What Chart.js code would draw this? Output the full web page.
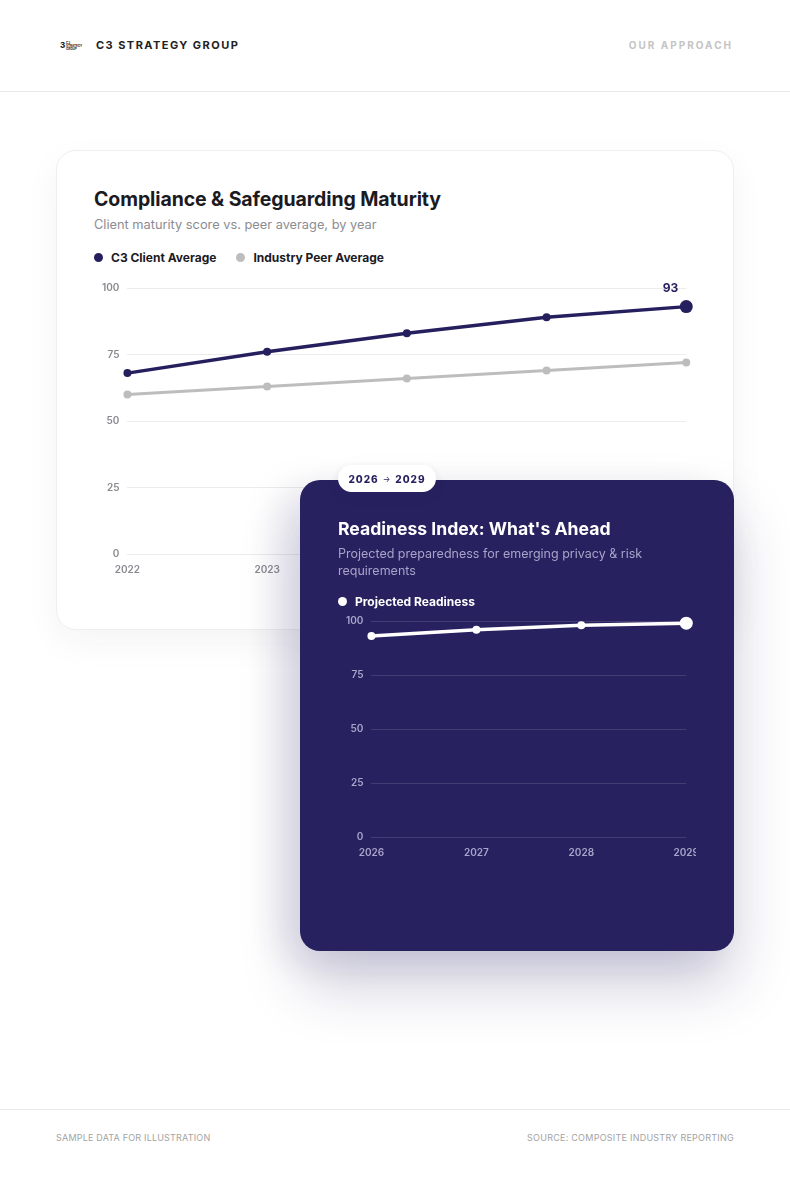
<!DOCTYPE html>
<html><head><meta charset="utf-8">
<script src="https://cdn.jsdelivr.net/npm/chart.js@4.4.1/dist/chart.umd.min.js"></script>
<style>
html,body{margin:0;padding:0}
body{width:790px;height:1180px;background:#fff;font-family:Inter,'Noto Sans',sans-serif;position:relative;overflow:hidden;color:#1a1a1a}
.abs{position:absolute}
#header{left:0;top:0;width:790px;height:91px;border-bottom:1px solid #e9e9e9}
#logo{left:60px;top:41px;width:22px;height:8px;font-size:8px;font-weight:800;line-height:8px;color:#222}
#logo small{position:absolute;left:6px;top:1px;font-size:3px;line-height:3px;font-weight:700;letter-spacing:0}
#brand{left:96px;top:38px;font-size:11px;font-weight:700;letter-spacing:1.45px;color:#222}
#nav{right:57px;top:39px;font-size:10px;font-weight:700;letter-spacing:2px;color:#c4c4c4}
#card1{left:56px;top:150px;width:676px;height:478px;border:1px solid #efefef;border-radius:20px;background:#fff;box-shadow:0 12px 34px rgba(30,30,60,0.05)}
#t1{left:94px;top:187px;font-size:19.5px;font-weight:700;color:#1b1a1f;letter-spacing:-0.1px}
#s1{left:94px;top:217px;font-size:12.8px;color:#8c8b92}
.leg{font-size:12px;font-weight:700;display:flex;align-items:center;white-space:nowrap}
.leg .dot{width:9px;height:9px;border-radius:50%;display:inline-block;margin-right:8px}
.leg .item{display:flex;align-items:center;margin-right:20px}
#leg1{left:94px;top:250px;color:#1b1a1f}
#c1wrap{left:94px;top:274px;width:607px;height:304px}
#card2{left:300px;top:480px;width:434px;height:471px;border-radius:20px;background:#27215f;box-shadow:0 34px 60px rgba(39,33,95,0.22), -20px 10px 40px rgba(39,33,95,0.10)}
#badge{left:338px;top:465px;width:98px;height:27px;border-radius:14px;background:#fff;box-shadow:0 4px 12px rgba(39,33,95,0.12);font-size:10px;font-weight:800;letter-spacing:1.0px;color:#27215f;display:flex;align-items:center;justify-content:center}
#badge .arr{font-size:8px;font-weight:400;margin:0 4px}
#t2{left:338px;top:518px;font-size:17.6px;font-weight:700;color:#fff}
#s2{left:338px;top:545px;width:340px;font-size:12.5px;line-height:17px;color:#a7a4c8}
#leg2{left:338px;top:594px;color:#fff}
#c2clip{left:338px;top:607px;width:358px;height:254px;overflow:hidden}
#c2wrap{left:0;top:0;width:363px;height:254px}
#footer{left:0;top:1109px;width:790px;border-top:1px solid #e9e9e9}
#f1{left:56px;top:1132px;font-size:9px;color:#a3a3a3;letter-spacing:0.2px}
#f2{right:56px;top:1132px;font-size:9px;color:#a3a3a3;letter-spacing:0.25px}
</style></head>
<body>
<div id="header" class="abs"></div>
<div id="logo" class="abs">3<small>C3 STRATEGY<br>GROUP</small></div>
<div id="brand" class="abs">C3 STRATEGY GROUP</div>
<div id="nav" class="abs">OUR APPROACH</div>

<div id="card1" class="abs"></div>
<div id="t1" class="abs">Compliance &amp; Safeguarding Maturity</div>
<div id="s1" class="abs">Client maturity score vs. peer average, by year</div>
<div id="leg1" class="abs leg"></div>
<div id="c1wrap" class="abs"><canvas id="c1"></canvas></div>

<div id="card2" class="abs"></div>
<div id="badge" class="abs">2026<span class="arr">→</span>2029</div>
<div id="t2" class="abs">Readiness Index: What's Ahead</div>
<div id="s2" class="abs">Projected preparedness for emerging privacy &amp; risk requirements</div>
<div id="leg2" class="abs leg"></div>
<div id="c2clip" class="abs"><div id="c2wrap" class="abs"><canvas id="c2"></canvas></div></div>

<div id="footer" class="abs"></div>
<div id="f1" class="abs">SAMPLE DATA FOR ILLUSTRATION</div>
<div id="f2" class="abs">SOURCE: COMPOSITE INDUSTRY REPORTING</div>

<script>
const historicalYears = ['2022','2023','2024','2025','2026'];
const clientAverage = [68, 76, 83, 89, 93];
const peerAverage = [60, 63, 66, 69, 72];
const projectedYears = ['2026','2027','2028','2029'];
const projectedReadiness = [93, 96, 98, 99];
const yTicks = [0, 25, 50, 75, 100];
const seriesNames1 = ['C3 Client Average', 'Industry Peer Average'];
const seriesNames2 = ['Projected Readiness'];

const NAVY = '#251f5e';
const GREY = '#bdbdbd';

function buildLegend(el, names, colors){
  el.innerHTML = names.map((n,i)=>'<span class="item"><span class="dot" style="background:'+colors[i]+'"></span>'+n+'</span>').join('');
}
buildLegend(document.getElementById('leg1'), seriesNames1, [NAVY, GREY]);
buildLegend(document.getElementById('leg2'), seriesNames2, ['#ffffff']);

function radii(arr){ return arr.map((v,i)=> i===arr.length-1 ? 6.5 : 4); }

const lastLabel = {
  id:'lastLabel',
  afterDatasetsDraw(chart){
    const meta = chart.getDatasetMeta(0);
    const pt = meta.data[meta.data.length-1];
    const ds = chart.data.datasets[0];
    const ctx = chart.ctx;
    ctx.save();
    ctx.font = '700 12px Inter, sans-serif';
    ctx.fillStyle = NAVY;
    ctx.textAlign = 'right';
    ctx.textBaseline = 'middle';
    ctx.fillText(String(ds.data[ds.data.length-1]), pt.x - 8, pt.y - 18);
    ctx.restore();
  }
};

function yScale(gridColor, tickColor){
  return {
    min: yTicks[0], max: yTicks[yTicks.length-1],
    afterBuildTicks(s){ s.ticks = yTicks.map(v=>({value:v})); },
    grid:{color:gridColor, drawTicks:false, lineWidth:1},
    border:{display:false},
    ticks:{color:tickColor, padding:8, font:{family:'Inter, sans-serif', size:10, weight:'600'}}
  };
}
function xScale(tickColor){
  return {
    offset:false,
    grid:{display:false},
    border:{display:false},
    ticks:{color:tickColor, padding:2, maxRotation:0, autoSkip:false, font:{family:'Inter, sans-serif', size:10, weight:'600'}}
  };
}

new Chart(document.getElementById('c1'), {
  type:'line',
  data:{
    labels: historicalYears,
    datasets:[
      {label:seriesNames1[0], data:clientAverage, borderColor:NAVY, backgroundColor:NAVY, borderWidth:3.5, pointRadius:radii(clientAverage), pointHoverRadius:radii(clientAverage), pointBorderWidth:0, tension:0, clip:false},
      {label:seriesNames1[1], data:peerAverage, borderColor:GREY, backgroundColor:GREY, borderWidth:3, pointRadius:4, pointBorderWidth:0, tension:0, clip:false}
    ]
  },
  options:{
    responsive:true, maintainAspectRatio:false, animation:false,
    plugins:{legend:{display:false}, tooltip:{enabled:false}},
    scales:{ x:xScale('#8a8990'), y:yScale('#ececec', '#8a8990') }
  },
  plugins:[lastLabel]
});

new Chart(document.getElementById('c2'), {
  type:'line',
  data:{
    labels: projectedYears,
    datasets:[
      {label:seriesNames2[0], data:projectedReadiness, borderColor:'#ffffff', backgroundColor:'#ffffff', borderWidth:3.5, pointRadius:radii(projectedReadiness), pointBorderWidth:0, tension:0, clip:false}
    ]
  },
  options:{
    responsive:true, maintainAspectRatio:false, animation:false,
    plugins:{legend:{display:false}, tooltip:{enabled:false}},
    scales:{ x:xScale('#a9a6cb'), y:yScale('rgba(255,255,255,0.13)', '#a9a6cb') }
  }
});
</script>
</body></html>
